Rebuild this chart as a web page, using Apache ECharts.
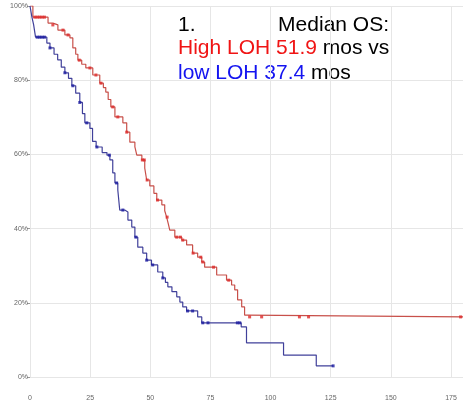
<!DOCTYPE html>
<html>
<head>
<meta charset="utf-8">
<script src="https://cdn.jsdelivr.net/npm/echarts@6/dist/echarts.min.js"></script>
<style>
  html, body { margin: 0; padding: 0; background: #fff; }
  #chart { width: 463px; height: 408px; }
</style>
</head>
<body>
<div id="chart"></div>
<script>
// low LOH curve (months, survival %)
var lowT = [0, 0.8, 1.5, 2.3, 7, 8.3, 10, 11.5, 13, 14.5, 16, 17.4, 19, 20.7, 21.8, 22.8, 24.9, 26, 27.5, 30, 32, 33.2, 34.4, 35.3, 36.5, 37.3, 39.4, 40.7, 42.3, 43.6, 44.8, 46.9, 48.5, 50.5, 53.1, 55.2, 56.3, 57.3, 59, 61, 62.3, 63.5, 65.1, 69.7, 71.4, 87.8, 90, 105.4, 119, 126];
var lowS = [100, 97, 95, 91.6, 90, 88.7, 87, 85.5, 83.5, 82, 80.5, 78.5, 76.5, 74, 71, 68.5, 67, 63.5, 62, 60.5, 59.8, 58.5, 55, 52.3, 50.4, 45, 44.5, 42.3, 40.4, 37.7, 35, 33.4, 31.5, 30.2, 28.3, 26.7, 25.5, 24.3, 23, 21.6, 20.2, 18.9, 17.8, 16.2, 14.6, 13.5, 9.2, 5.9, 3.0, 3.0];
// high LOH curve
var highT = [0, 1.2, 7.5, 9.5, 11.6, 14.5, 16.6, 17.8, 19, 19.9, 21.5, 23.2, 26.1, 29, 30.5, 31.5, 32.5, 33.6, 35.3, 38.6, 40.2, 41.5, 43.6, 44.4, 46.5, 47.7, 48.5, 49.8, 51.5, 52.7, 54.8, 56, 56.8, 57.5, 58.1, 60.2, 63.1, 65.1, 67.6, 69.7, 71.4, 72.6, 77.6, 81.7, 83.8, 85.1, 86.3, 88, 89.2, 90.5, 180];
var highS = [100, 97, 95.4, 94.9, 93.5, 92.2, 91.4, 88.7, 87, 85.4, 84.3, 83.3, 81.4, 79.2, 78, 76.8, 74.8, 72.8, 70.1, 68.5, 66, 63.3, 62, 59.8, 58.5, 56.3, 53.1, 51.5, 49.5, 47.7, 46.4, 44.8, 43.1, 41.3, 39.6, 37.7, 36.9, 35.6, 33.4, 32.3, 31, 29.6, 27.5, 26.1, 24.8, 23.5, 20.8, 18.9, 16.7, 16.2, 16.2];
// censored times
var lowCens = [3, 4, 5, 6, 8.3, 14.5, 17.8, 20.7, 23.6, 27.8, 33, 36, 38.6, 44, 48.5, 51, 55.2, 65.5, 67.6, 71.8, 74, 86.2, 87.2, 126];
var highCens = [2, 3, 4, 5, 6, 9.5, 13.7, 15.8, 20.5, 24.9, 27.4, 29.5, 34.4, 36.5, 40.2, 46.7, 47.5, 48.7, 53, 57, 61, 62.5, 63.5, 67.8, 71, 71.8, 76.3, 82.6, 91.3, 96.3, 112, 115.8, 179];

function pairs(t, s) {
    var out = [];
    for (var i = 0; i < t.length; i++) out.push([t[i], s[i]]);
    return out;
}
// survival value of a step curve at time x
function stepAt(t, s, x) {
    var v = s[0];
    for (var i = 0; i < t.length; i++) {
        if (t[i] <= x) v = s[i];
    }
    return v;
}
function censPoints(c, t, s) {
    return c.map(function (x) { return [x, stepAt(t, s, x)]; });
}

var chart = echarts.init(document.getElementById('chart'));
var option = {
    animation: false,
    grid: { left: 30, right: 0, top: 6, bottom: 31, outerBoundsMode: 'none' },
    xAxis: {
        type: 'value',
        min: 0,
        max: 180,
        interval: 25,
        axisLine: { show: false },
        axisTick: { show: false },
        splitLine: { lineStyle: { color: '#e6e6e6', width: 1 } },
        axisLabel: { fontSize: 7, color: '#666', margin: 18, showMaxLabel: false, fontFamily: 'Liberation Sans' }
    },
    yAxis: {
        type: 'value',
        min: 0,
        max: 100,
        interval: 20,
        axisLine: { show: false },
        axisTick: { show: true, length: 3, lineStyle: { color: '#999' } },
        splitLine: { lineStyle: { color: '#e6e6e6', width: 1 } },
        axisLabel: { fontSize: 7, color: '#666', margin: 2, formatter: '{value}%', fontFamily: 'Liberation Sans' }
    },
    series: [
        {
            type: 'line', step: 'end', data: pairs(highT, highS),
            showSymbol: false, lineStyle: { color: '#c8504a', width: 1.2 }, z: 3
        },
        {
            type: 'line', step: 'end', data: pairs(lowT, lowS),
            showSymbol: false, lineStyle: { color: '#40409a', width: 1.2 }, z: 3
        },
        {
            type: 'scatter', data: censPoints(highCens, highT, highS),
            symbol: 'rect', symbolSize: 3, itemStyle: { color: '#dd2a2a' }, z: 4
        },
        {
            type: 'scatter', data: censPoints(lowCens, lowT, lowS),
            symbol: 'rect', symbolSize: 3, itemStyle: { color: '#1c1ca0' }, z: 4
        }
    ],
    graphic: [
        {
            type: 'text', left: 178, top: 15,
            style: { text: '1.', fontSize: 21, fontFamily: 'Liberation Sans', fill: '#000' }
        },
        {
            type: 'text', right: 74, top: 15,
            style: { text: 'Median OS:', fontSize: 21, fontFamily: 'Liberation Sans', fill: '#000' }
        },
        {
            type: 'text', left: 178, top: 38,
            style: {
                text: '{r|High LOH 51.9} {k|mos vs}',
                fontSize: 21, fontFamily: 'Liberation Sans',
                rich: {
                    r: { fill: '#f01414', fontSize: 21, fontFamily: 'Liberation Sans' },
                    k: { fill: '#000', fontSize: 21, fontFamily: 'Liberation Sans' }
                }
            }
        },
        {
            type: 'text', left: 178, top: 63,
            style: {
                text: '{b|low LOH 37.4} {k|mos}',
                fontSize: 21, fontFamily: 'Liberation Sans',
                rich: {
                    b: { fill: '#1414f0', fontSize: 21, fontFamily: 'Liberation Sans' },
                    k: { fill: '#000', fontSize: 21, fontFamily: 'Liberation Sans' }
                }
            }
        }
    ]
};
chart.setOption(option);
</script>
</body>
</html>
